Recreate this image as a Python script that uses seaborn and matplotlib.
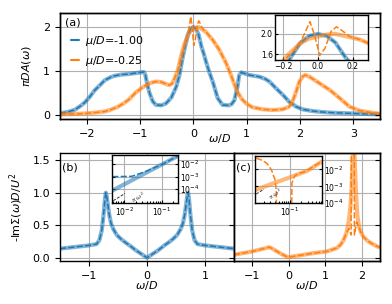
import matplotlib
matplotlib.use('Agg')
import matplotlib.pyplot as plt
from matplotlib.ticker import NullLocator
import seaborn as sns

# (a) spectral function
w_blue = [-2.5, -2.35, -2.22, -2.1, -2.04, -1.95, -1.85, -1.75, -1.66, -1.55, -1.48, -1.35,
          -1.23, -1.1, -0.98, -0.93, -0.9, -0.88, -0.85, -0.82, -0.76, -0.7, -0.6, -0.51,
          -0.41, -0.32, -0.26, -0.2, -0.16, -0.1, -0.05, 0.0, 0.05, 0.1, 0.155, 0.2, 0.24,
          0.3, 0.37, 0.46, 0.55, 0.67, 0.72, 0.77, 0.83, 0.86, 0.9, 0.95, 1.05, 1.24, 1.35,
          1.43, 1.55, 1.68, 1.8, 1.93, 2.05, 2.24, 2.4, 2.61, 3.0, 3.36, 3.5]
A_blue = [0.04, 0.07, 0.12, 0.22, 0.28, 0.40, 0.56, 0.68, 0.79, 0.86, 0.89, 0.92,
          0.93, 0.95, 0.97, 0.98, 0.92, 0.80, 0.64, 0.50, 0.31, 0.23, 0.22, 0.265,
          0.40, 0.64, 0.90, 1.30, 1.52, 1.83, 1.96, 2.0, 1.96, 1.83, 1.55, 1.38, 1.21,
          0.98, 0.74, 0.38, 0.23, 0.22, 0.25, 0.33, 0.64, 0.90, 0.97, 0.95, 0.91, 0.87, 0.82,
          0.76, 0.61, 0.46, 0.30, 0.19, 0.13, 0.09, 0.07, 0.053, 0.035, 0.02, 0.015]
w_orange = [-2.5, -2.2, -1.97, -1.8, -1.66, -1.55, -1.41, -1.3, -1.2, -1.08, -0.95, -0.8,
            -0.7, -0.6, -0.52, -0.45, -0.4, -0.35, -0.29, -0.23, -0.17, -0.1, -0.05, 0.0,
            0.05, 0.1, 0.18, 0.24, 0.3, 0.37, 0.49, 0.62, 0.72, 0.81, 0.9, 0.99, 1.1, 1.3,
            1.49, 1.68, 1.8, 1.86, 1.93, 1.99, 2.05, 2.1, 2.18, 2.37, 2.56, 2.75, 2.93,
            3.12, 3.37, 3.5]
A_orange = [0.015, 0.025, 0.04, 0.06, 0.08, 0.12, 0.19, 0.27, 0.36, 0.51, 0.63, 0.73,
            0.76, 0.75, 0.71, 0.68, 0.71, 0.83, 1.02, 1.33, 1.60, 1.82, 1.91, 1.95,
            1.99, 2.0, 1.94, 1.89, 1.80, 1.70, 1.48, 1.17, 0.87, 0.57, 0.38, 0.265, 0.18, 0.13,
            0.114, 0.13, 0.19, 0.30, 0.53, 0.76, 0.87, 0.91, 0.87, 0.72, 0.57, 0.38, 0.19,
            0.10, 0.05, 0.03]
# oscillating dashed curve near w=0
w_orange_osc = [-0.17, -0.13, -0.1, -0.074, -0.046, -0.02, 0.01, 0.04, 0.075, 0.106, 0.14, 0.18]
A_orange_osc = [1.57, 1.70, 1.84, 2.03, 2.24, 1.98, 1.58, 1.72, 2.05, 2.14, 2.06, 1.95]

# (b) self-energy, mu/D=-1.00
w_sig_b = [-1.5, -1.25, -1.0, -0.87, -0.82, -0.78, -0.75, -0.725, -0.71, -0.695, -0.675,
           -0.65, -0.62, -0.58, -0.52, -0.45, -0.38, -0.3, -0.2, -0.1, 0.0,
           0.1, 0.2, 0.3, 0.38, 0.45, 0.52, 0.58, 0.62, 0.65, 0.675, 0.695, 0.71, 0.725,
           0.75, 0.78, 0.82, 0.87, 1.0, 1.25, 1.5]
sig_b = [0.14, 0.165, 0.19, 0.21, 0.27, 0.42, 0.65, 0.9, 1.0, 0.95, 0.82,
         0.66, 0.53, 0.44, 0.35, 0.29, 0.24, 0.19, 0.12, 0.06, 0.0,
         0.06, 0.12, 0.19, 0.24, 0.29, 0.35, 0.44, 0.53, 0.66, 0.82, 0.95, 1.0, 0.9,
         0.65, 0.42, 0.27, 0.21, 0.19, 0.165, 0.14]

# (c) self-energy, mu/D=-0.25
w_sig_c = [-1.5, -1.0, -0.53, -0.45, -0.39, -0.21, -0.03, 0.0, 0.3, 0.67, 1.04, 1.32, 1.42,
           1.5, 1.58, 1.65, 1.69, 1.72, 1.745, 1.765, 1.78, 1.795, 1.815, 1.84, 1.88, 1.93,
           1.97, 2.05, 2.16, 2.3, 2.44, 2.5]
sig_c = [0.046, 0.097, 0.163, 0.14, 0.12, 0.06, 0.01, 0.01, 0.036, 0.07, 0.097, 0.15, 0.2,
         0.27, 0.38, 0.58, 0.79, 1.05, 1.4, 1.75, 1.9, 1.75, 1.4, 1.05, 0.65, 0.47,
         0.40, 0.32, 0.26, 0.21, 0.17, 0.16]
w_sig_c_dash = [-1.5, -1.0, -0.53, -0.45, -0.39, -0.21, -0.03, 0.0, 0.3, 0.67, 1.04, 1.32,
                1.42, 1.5, 1.58, 1.65, 1.71, 1.72, 1.79, 1.80, 1.86, 1.93, 1.97, 2.05, 2.16,
                2.3, 2.44, 2.5]
sig_c_dash = [0.046, 0.097, 0.163, 0.14, 0.12, 0.06, 0.01, 0.01, 0.036, 0.07, 0.097, 0.15,
              0.2, 0.27, 0.38, 0.45, 0.35, 3.0, 3.0, 0.35, 0.55, 0.47, 0.40, 0.32, 0.26,
              0.21, 0.17, 0.16]

# log-log insets
w_log_b = [0.0048, 0.01, 0.03, 0.1, 0.268]
sig_log_b = [7.8e-5, 2.45e-4, 1.38e-3, 8.9e-3, 0.042]
w_log_b_dash = [0.0048, 0.01, 0.016, 0.037, 0.068, 0.089, 0.1, 0.268]
sig_log_b_dash = [1.0e-3, 1.03e-3, 1.06e-3, 2.5e-3, 5.5e-3, 7.5e-3, 8.9e-3, 0.042]
w_w2_b = [0.0051, 0.0105]
sig_w2_b = [1.26e-5, 4.7e-5]

w_log_c = [0.0116, 0.03, 0.1, 0.3, 0.71]
sig_log_c = [6.0e-4, 1.3e-3, 3.4e-3, 8.5e-3, 0.029]
w_log_c_dash1 = [0.0125, 0.018, 0.024, 0.032, 0.040, 0.043, 0.044]
sig_log_c_dash1 = [0.046, 0.035, 0.023, 9.3e-3, 2.4e-3, 6e-4, 1e-5]
w_log_c_dash2 = [0.111, 0.113, 0.125, 0.136, 0.16, 0.185, 0.25, 0.71]
sig_log_c_dash2 = [1e-5, 1.5e-3, 3.0e-3, 4.2e-3, 5.4e-3, 6.0e-3, 7.3e-3, 0.029]
w_w2_c = [0.0125, 0.02]
sig_w2_c = [3.5e-4, 6.8e-4]

BLUE = '#1f77b4'
ORANGE = '#ff7f0e'

sns.set_theme(context='paper', style='whitegrid', rc={
    'axes.edgecolor': 'black', 'axes.linewidth': 1.0,
    'grid.color': '#b0b0b0', 'grid.linewidth': 0.8,
    'xtick.bottom': True, 'ytick.left': True,
    'xtick.major.size': 3.5, 'ytick.major.size': 3.5,
    'xtick.major.width': 0.8, 'ytick.major.width': 0.8,
    'xtick.color': 'black', 'ytick.color': 'black',
    'font.size': 8, 'axes.labelsize': 8, 'xtick.labelsize': 8,
    'ytick.labelsize': 8, 'legend.fontsize': 8,
    'text.color': 'black', 'axes.labelcolor': 'black',
})
plt.rcParams['font.family'] = ['DejaVu Sans']


def pair(ax, w, y, color, wd=None, yd=None):
    sns.lineplot(x=w, y=y, ax=ax, color=color, lw=3, alpha=0.55,
                 estimator=None, sort=False)
    if wd is None:
        wd, yd = w, y
    sns.lineplot(x=wd, y=yd, ax=ax, color=color, lw=1.1, linestyle=(0, (4, 1.5)),
                 estimator=None, sort=False)


def right_ticks_in(ax):
    axr = ax.twinx()
    axr.set_ylim(ax.get_ylim())
    axr.set_yticks(ax.get_yticks())
    axr.tick_params(axis='y', direction='in', length=3.5, labelright=False)
    axr.grid(False)


def orange_dashed():
    # dashed curve = solid curve away from zero, oscillations near zero
    wd, yd = [], []
    for w, a in zip(w_orange, A_orange):
        if w < -0.17:
            wd.append(w); yd.append(a)
    wd += w_orange_osc; yd += A_orange_osc
    for w, a in zip(w_orange, A_orange):
        if w > 0.18:
            wd.append(w); yd.append(a)
    return wd, yd


fig = plt.figure(figsize=(3.92, 3.04), dpi=100)

# ---------- (a)
ax_a = fig.add_axes([0.153, 0.6086, 0.816, 0.3487])
wd_o, Ad_o = orange_dashed()
pair(ax_a, w_blue, A_blue, BLUE)
pair(ax_a, w_orange, A_orange, ORANGE, wd_o, Ad_o)
ax_a.set_xlim(-2.5, 3.5)
ax_a.set_ylim(-0.09, 2.32)
ax_a.set_xticks([-2, -1, 0, 1, 2, 3])
ax_a.set_yticks([0, 1, 2])
ax_a.set_xlabel(r'$\omega/D$')
ax_a.set_ylabel(r'$\pi DA(\omega)$')
ax_a.xaxis.set_label_coords(0.5, -0.125)
ax_a.yaxis.set_label_coords(-0.084, 0.5)
ax_a.text(0.016, 0.91, '(a)', transform=ax_a.transAxes, va='center', ha='left')
h1, = ax_a.plot([], [], color=BLUE, lw=1.5, label=r'$\mu/D$=-1.00')
h2, = ax_a.plot([], [], color=ORANGE, lw=1.5, label=r'$\mu/D$=-0.25')
ax_a.legend(handles=[h1, h2], loc='upper left', bbox_to_anchor=(0.02, 0.84),
            frameon=False, handlelength=0.7, handletextpad=0.6, labelspacing=0.5,
            borderaxespad=0)
right_ticks_in(ax_a)

ins_a = fig.add_axes([0.7015, 0.8026, 0.2372, 0.148])
ins_a.set_zorder(5)
pair(ins_a, w_blue, A_blue, BLUE)
pair(ins_a, w_orange, A_orange, ORANGE, wd_o, Ad_o)
ins_a.set_xlim(-0.246, 0.286)
ins_a.set_ylim(1.49, 2.37)
ins_a.set_xticks([-0.2, 0.0, 0.2])
ins_a.set_yticks([1.6, 2.0])
ins_a.tick_params(labelsize=5.5, direction='in', length=2, pad=1.5)
ins_a.set_xlabel('')
ins_a.set_ylabel('')

# ---------- (b)
ax_b = fig.add_axes([0.153, 0.1414, 0.4439, 0.3553])
pair(ax_b, w_sig_b, sig_b, BLUE)
ax_b.set_xlim(-1.5, 1.5)
ax_b.set_ylim(-0.05, 1.61)
ax_b.set_xticks([-1, 0, 1])
ax_b.set_yticks([0, 0.5, 1.0, 1.5])
ax_b.set_yticklabels(['0.0', '0.5', '1.0', '1.5'])
ax_b.set_xlabel(r'$\omega/D$')
ax_b.set_ylabel(r'-Im$\Sigma(\omega)D/U^2$')
ax_b.xaxis.set_label_coords(0.5, -0.17)
ax_b.yaxis.set_label_coords(-0.2, 0.5)
ax_b.text(0.011, 0.87, '(b)', transform=ax_b.transAxes, va='center', ha='left')

# ---------- (c)
ax_c = fig.add_axes([0.5969, 0.1414, 0.3724, 0.3553])
pair(ax_c, w_sig_c, sig_c, ORANGE, w_sig_c_dash, sig_c_dash)
ax_c.set_xlim(-1.5, 2.5)
ax_c.set_ylim(-0.05, 1.61)
ax_c.set_xticks([-1, 0, 1, 2])
ax_c.set_yticks([0, 0.5, 1.0, 1.5])
ax_c.tick_params(axis='y', left=False, labelleft=False)
ax_c.set_xlabel(r'$\omega/D$')
ax_c.set_ylabel('')
ax_c.xaxis.set_label_coords(0.5, -0.17)
ax_c.text(0.014, 0.866, '(c)', transform=ax_c.transAxes, va='center', ha='left')
right_ticks_in(ax_c)


def log_inset(rect, xlim, ylim, xticks):
    ax = fig.add_axes(rect)
    ax.set_zorder(5)
    ax.set_xscale('log')
    ax.set_yscale('log')
    ax.set_xlim(*xlim)
    ax.set_ylim(*ylim)
    ax.set_xticks(xticks)
    ax.set_yticks([1e-4, 1e-3, 1e-2])
    ax.yaxis.set_minor_locator(NullLocator())
    ax.tick_params(which='both', direction='in', labelsize=5.5, pad=2)
    ax.tick_params(which='major', length=2.5)
    ax.tick_params(which='minor', length=1.5, bottom=True)
    ax.tick_params(axis='y', left=True, right=True, labelleft=False, labelright=True)
    ax.set_xlabel('')
    ax.set_ylabel('')
    return ax


ins_b = log_inset([0.2865, 0.3332, 0.1668, 0.1569], (0.0048, 0.268), (8.7e-6, 0.051),
                  [1e-2, 1e-1])
pair(ins_b, w_log_b, sig_log_b, BLUE, w_log_b_dash, sig_log_b_dash)
sns.lineplot(x=w_w2_b, y=sig_w2_b, ax=ins_b, color='#333333', lw=0.7,
             linestyle=(0, (3, 1.5)), estimator=None)
ins_b.text(0.0125, 2.2e-5, r'$\propto\omega^2$', fontsize=4.5, rotation=30,
           color='#333333', ha='left', va='center')
ins_b.set_xlim(0.0048, 0.268)
ins_b.set_ylim(8.7e-6, 0.051)

ins_c = log_inset([0.6505, 0.3313, 0.1702, 0.1556], (0.0116, 0.71), (1e-4, 0.062),
                  [1e-1])
sns.lineplot(x=w_log_c, y=sig_log_c, ax=ins_c, color=ORANGE, lw=3, alpha=0.55,
             estimator=None)
for wd, yd in [(w_log_c_dash1, sig_log_c_dash1), (w_log_c_dash2, sig_log_c_dash2)]:
    sns.lineplot(x=wd, y=yd, ax=ins_c, color=ORANGE, lw=1.1, linestyle=(0, (4, 1.5)),
                 estimator=None, sort=False)
sns.lineplot(x=w_w2_c, y=sig_w2_c, ax=ins_c, color='#333333', lw=0.7,
             linestyle=(0, (3, 1.5)), estimator=None)
ins_c.text(0.022, 3.2e-4, r'$\propto\omega^2$', fontsize=4.5, rotation=35,
           color='#333333', ha='left', va='center')
ins_c.set_xlim(0.0116, 0.71)
ins_c.set_ylim(1e-4, 0.062)

fig.savefig('out.png', dpi=100)
